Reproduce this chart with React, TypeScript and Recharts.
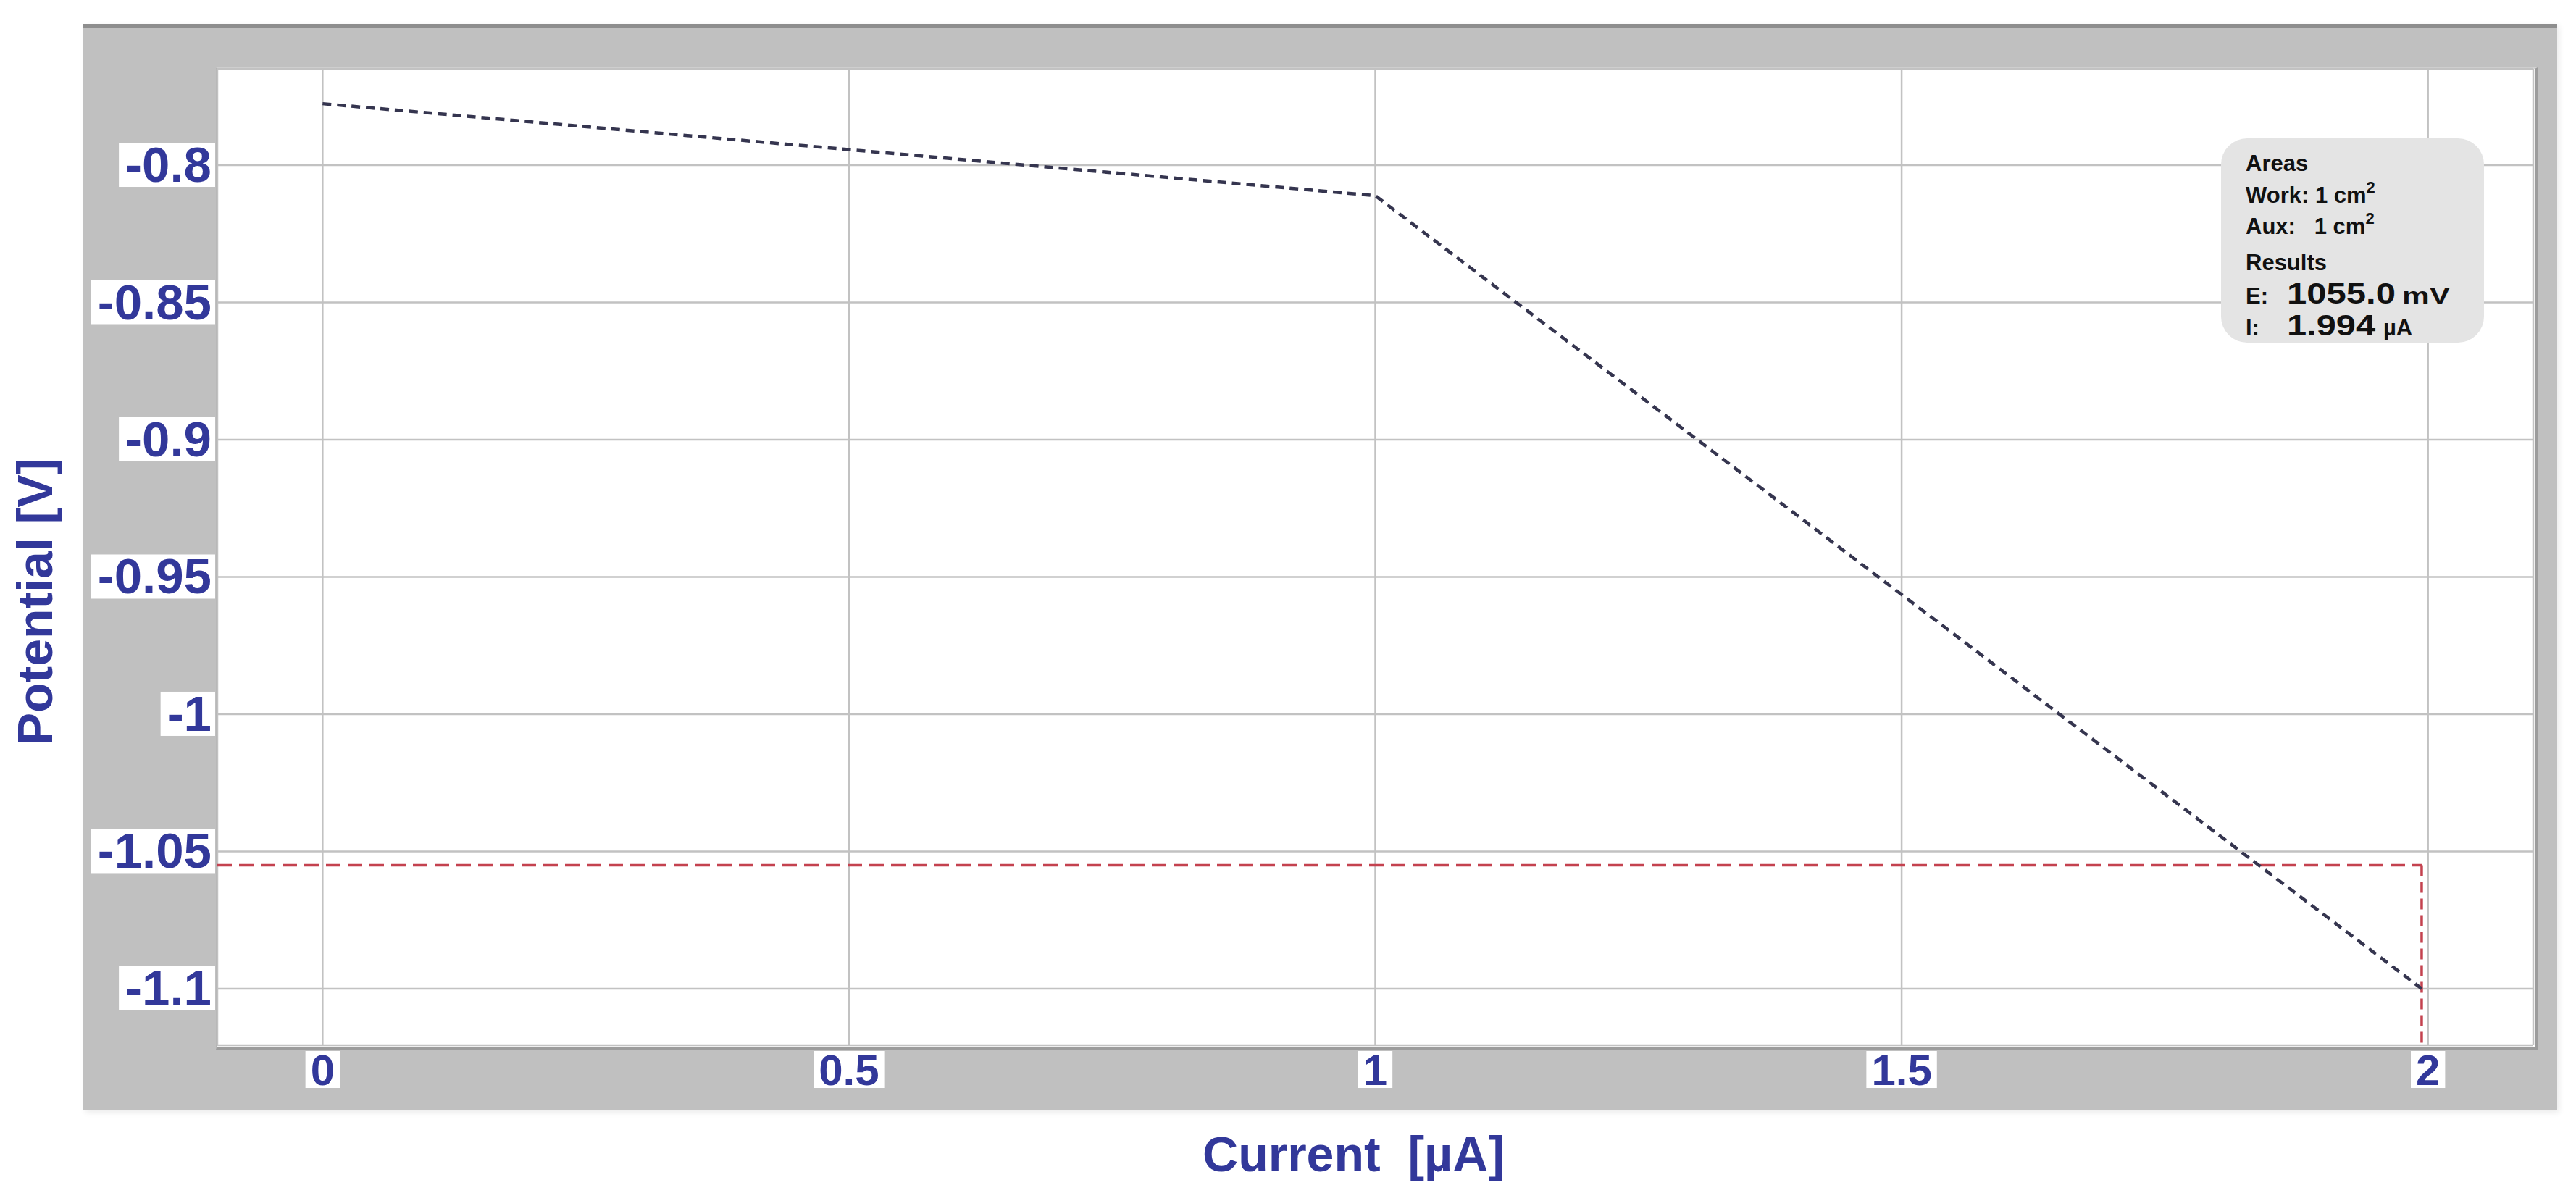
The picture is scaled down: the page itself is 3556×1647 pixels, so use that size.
import React from 'react';
import { LineChart, Line, XAxis, YAxis, CartesianGrid, ReferenceLine } from 'recharts';

// polarization curve
const CURRENT = [0, 1, 1.994];
const POTENTIAL = [-0.7776, -0.8111, -1.1];

const X_TICKS = [0, 0.5, 1, 1.5, 2];
const Y_TICKS = [-0.8, -0.85, -0.9, -0.95, -1, -1.05, -1.1];
const X_DOMAIN: [number, number] = [-0.1, 2.1];
const Y_DOMAIN: [number, number] = [-1.1206, -0.7649];

// result marker (E in V, I in µA)
const RESULT_E = -1.055;
const RESULT_I = 1.994;

const DATA = CURRENT.map((i, k) => ({ i, e: POTENTIAL[k] }));

const W = 3556;
const H = 1647;
const FONT = '"Liberation Sans", Arial, Helvetica, sans-serif';
const BLUE = '#32389a';

const CHAR_W: Record<string, number> = { '-': 0.333, '.': 0.278 };
const textWidth = (s: string, fs: number) =>
  s.split('').reduce((sum, c) => sum + (CHAR_W[c] ?? 0.556), 0) * fs;

const YTick = ({ x, y, payload }: any) => {
  const label = String(payload.value);
  const fs = 69;
  const w = textWidth(label, fs);
  return (
    <g>
      <rect x={x - w - 9} y={y - 31} width={w + 14} height={61} fill="#fff" />
      <text x={x} y={y + 23} textAnchor="end" fontFamily={FONT} fontWeight="bold" fontSize={fs} fill={BLUE}>
        {label}
      </text>
    </g>
  );
};

const XTick = ({ x, y, payload }: any) => {
  const label = String(payload.value);
  const fs = 60;
  const w = textWidth(label, fs);
  return (
    <g>
      <rect x={x - w / 2 - 7} y={y + 8} width={w + 14} height={51} fill="#fff" />
      <text x={x} y={y + 55} textAnchor="middle" fontFamily={FONT} fontWeight="bold" fontSize={fs} fill={BLUE}>
        {label}
      </text>
    </g>
  );
};

const YTitle = ({ viewBox }: any) => {
  const cx = viewBox.x + 72;
  const cy = viewBox.y + viewBox.height / 2 + 62;
  return (
    <text
      x={cx}
      y={cy}
      transform={`rotate(-90 ${cx} ${cy})`}
      textAnchor="middle"
      fontFamily={FONT}
      fontWeight="bold"
      fontSize={68}
      fill={BLUE}
    >
      Potential [V]
    </text>
  );
};

const XTitle = ({ viewBox }: any) => (
  <text
    x={viewBox.x + viewBox.width / 2 - 30}
    y={viewBox.y + 174}
    textAnchor="middle"
    fontFamily={FONT}
    fontWeight="bold"
    fontSize={68}
    fill={BLUE}
    style={{ whiteSpace: 'pre' }}
  >
    {'Current  [µA]'}
  </text>
);

const InfoBox = () => (
  <svg
    width={363}
    height={282}
    style={{ position: 'absolute', left: 3066, top: 191 }}
    fontFamily={FONT}
    fontWeight="bold"
    fill="#111"
  >
    <rect x={0} y={0} width={363} height={282} rx={36} fill="#e4e4e4" />
    <text x={34} y={45} fontSize={31}>Areas</text>
    <text x={34} y={89} fontSize={31} style={{ whiteSpace: 'pre' }}>
      {'Work: 1 cm'}
      <tspan fontSize={22} dy={-14}>2</tspan>
    </text>
    <text x={34} y={132} fontSize={31} style={{ whiteSpace: 'pre' }}>
      {'Aux:   1 cm'}
      <tspan fontSize={22} dy={-14}>2</tspan>
    </text>
    <text x={34} y={182} fontSize={31}>Results</text>
    <text x={34} y={228} fontSize={31}>
      E:
      <tspan x={91} fontSize={40} textLength={150} lengthAdjust="spacingAndGlyphs">
        {(Math.abs(RESULT_E) * 1000).toFixed(1)}
      </tspan>
      <tspan x={250} fontSize={31} textLength={66} lengthAdjust="spacingAndGlyphs">mV</tspan>
    </text>
    <text x={34} y={272} fontSize={31}>
      I:
      <tspan x={91} fontSize={40} textLength={122} lengthAdjust="spacingAndGlyphs">
        {RESULT_I.toFixed(3)}
      </tspan>
      <tspan x={224} fontSize={31}>µA</tspan>
    </text>
  </svg>
);

export default function App() {
  return (
    <div style={{ position: 'absolute', left: 0, top: 0, width: W, height: H, background: '#fff', overflow: 'hidden' }}>
      {/* gray instrument frame */}
      <div
        style={{
          position: 'absolute',
          left: 115,
          top: 33,
          width: 3415,
          height: 1500,
          boxSizing: 'border-box',
          background: '#c0c0c0',
          borderTop: '5px solid #8e8e8e',
          boxShadow: '3px 3px 8px rgba(0,0,0,0.08)',
        }}
      />
      {/* white plot panel */}
      <div
        style={{
          position: 'absolute',
          left: 298,
          top: 93,
          width: 3199,
          height: 1350,
          background: '#fff',
          borderTop: '2px solid #d2d2d2',
          borderLeft: '2px solid #b4b4b4',
          borderRight: '4px solid #9c9c9c',
          borderBottom: '4px solid #9c9c9c',
        }}
      />
      <div style={{ position: 'absolute', left: 0, top: 0 }}>
        <LineChart width={W} height={H} data={DATA} margin={{ top: 95, right: 59, bottom: 0, left: 0 }}>
          <CartesianGrid stroke="#c2c2c2" strokeWidth={2.5} />
          <XAxis
            dataKey="i"
            type="number"
            domain={X_DOMAIN}
            ticks={X_TICKS}
            allowDataOverflow
            height={204}
            axisLine={false}
            tickLine={false}
            tickSize={0}
            tickMargin={0}
            tick={<XTick />}
            label={<XTitle />}
          />
          <YAxis
            type="number"
            domain={Y_DOMAIN}
            ticks={Y_TICKS}
            allowDataOverflow
            width={300}
            axisLine={false}
            tickLine={false}
            tickSize={0}
            tickMargin={8}
            tick={<YTick />}
            label={<YTitle />}
          />
          <ReferenceLine
            segment={[
              { x: X_DOMAIN[0], y: RESULT_E },
              { x: RESULT_I, y: RESULT_E },
            ]}
            stroke="#c4424f"
            strokeWidth={3.5}
            strokeDasharray="20 10"
          />
          <ReferenceLine
            segment={[
              { x: RESULT_I, y: RESULT_E },
              { x: RESULT_I, y: Y_DOMAIN[0] },
            ]}
            stroke="#c4424f"
            strokeWidth={3.5}
            strokeDasharray="15 8"
          />
          <Line
            type="linear"
            dataKey="e"
            stroke="#35354f"
            strokeWidth={4.5}
            strokeDasharray="12 8"
            dot={false}
            activeDot={false}
            isAnimationActive={false}
          />
        </LineChart>
      </div>
      <InfoBox />
    </div>
  );
}
